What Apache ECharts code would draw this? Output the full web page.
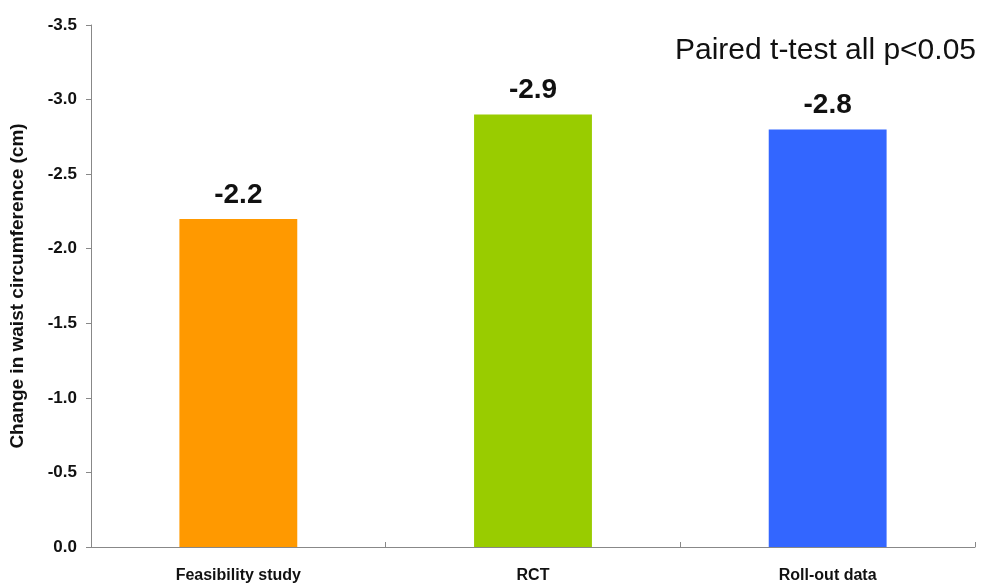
<!DOCTYPE html>
<html>
<head>
<meta charset="utf-8">
<script src="https://cdn.jsdelivr.net/npm/echarts@6/dist/echarts.min.js"></script>
<style>
  html, body { margin: 0; padding: 0; background: #fff; }
  #chart { width: 989px; height: 585px; }
</style>
</head>
<body>
<div id="chart"></div>
<script>
// Study phases and their mean change in waist circumference (cm)
const categories = ['Feasibility study', 'RCT', 'Roll-out data'];
const waistChange = [-2.2, -2.9, -2.8];
const barColors = ['#FF9900', '#99CC00', '#3366FF'];
const yTicks = { min: -3.5, max: 0, interval: 0.5 };

const chart = echarts.init(document.getElementById('chart'), null, { renderer: 'canvas' });

chart.setOption({
  backgroundColor: '#ffffff',
  animation: false,
  textStyle: { fontFamily: 'Liberation Sans, Arial, sans-serif' },
  grid: { left: 90, right: 14, top: 25, bottom: 38 },
  title: {
    text: 'Paired t-test all p<0.05',
    right: 8,
    top: 31,
    textStyle: { fontSize: 30, fontWeight: 'normal', color: '#111', fontFamily: 'Liberation Sans, Arial, sans-serif' }
  },
  xAxis: {
    type: 'category',
    data: categories,
    axisLine: { lineStyle: { color: '#888', width: 1 } },
    axisTick: { show: true, inside: true, length: 5, alignWithLabel: false, lineStyle: { color: '#888' } },
    axisLabel: { color: '#111', fontWeight: 'bold', fontSize: 16, margin: 21 }
  },
  yAxis: {
    type: 'value',
    inverse: true,
    min: yTicks.min,
    max: yTicks.max,
    interval: yTicks.interval,
    name: 'Change in waist circumference (cm)',
    nameLocation: 'middle',
    nameGap: 64,
    nameTextStyle: { color: '#111', fontWeight: 'bold', fontSize: 19 },
    splitLine: { show: false },
    axisLine: { show: true, lineStyle: { color: '#888', width: 1 } },
    axisTick: { show: true, length: 5, lineStyle: { color: '#888' } },
    axisLabel: {
      color: '#111', fontWeight: 'bold', fontSize: 17, margin: 14,
      formatter: v => v.toFixed(1)
    }
  },
  series: [{
    type: 'bar',
    data: waistChange.map((v, i) => ({ value: v, itemStyle: { color: barColors[i] } })),
    barWidth: '40%',
    label: {
      show: true,
      position: 'top',
      distance: 10,
      color: '#111',
      fontWeight: 'bold',
      fontSize: 28,
      formatter: p => p.value.toFixed(1)
    }
  }]
});
</script>
</body>
</html>
